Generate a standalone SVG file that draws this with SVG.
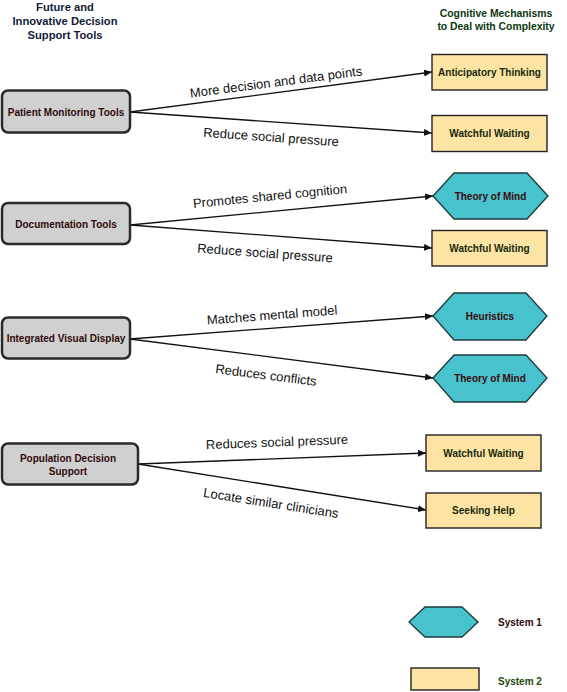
<svg xmlns="http://www.w3.org/2000/svg" width="567" height="692" viewBox="0 0 567 692">
<defs>
<style>
.hdrL{font-family:"Liberation Sans",Arial,sans-serif;font-weight:bold;font-size:11.2px;fill:#121a3c;text-anchor:middle}
.hdrR{font-family:"Liberation Sans",Arial,sans-serif;font-weight:bold;font-size:10.4px;fill:#0c360e;text-anchor:middle}
.src rect{fill:#d0d0d0;stroke:#2a2a2a;stroke-width:2.5}
.src text{font-family:"Liberation Sans",Arial,sans-serif;font-weight:bold;font-size:10px;fill:#2e0a0a;text-anchor:middle;dominant-baseline:central}
.s2 rect{fill:#fde4a4;stroke:#222;stroke-width:1.4}
.s2 text{font-family:"Liberation Sans",Arial,sans-serif;font-weight:bold;font-size:10px;fill:#16290c;text-anchor:middle;dominant-baseline:central}
.s1 polygon{fill:#48c2cc;stroke:#1c3a3c;stroke-width:1.3}
.s1 text{font-family:"Liberation Sans",Arial,sans-serif;font-weight:bold;font-size:10px;fill:#3a0a0e;text-anchor:middle;dominant-baseline:central}
.edges line{stroke:#111;stroke-width:1.3;marker-end:url(#arr)}
.lbl{font-family:"Liberation Sans",Arial,sans-serif;font-size:13px;fill:#111;text-anchor:middle;dominant-baseline:central}
.leg{font-family:"Liberation Sans",Arial,sans-serif;font-weight:bold;font-size:12px;dominant-baseline:central}
</style>
<marker id="arr" viewBox="0 0 8 7" refX="8" refY="3.5" markerWidth="8" markerHeight="7" markerUnits="userSpaceOnUse" orient="auto">
<path d="M0,0 L8,3.5 L0,7 z" fill="#111"/>
</marker>
</defs>
<rect width="567" height="692" fill="#fff"/>

<g id="header-left">
<text class="hdrL" x="65" y="11">Future and</text>
<text class="hdrL" x="65" y="25">Innovative Decision</text>
<text class="hdrL" x="65" y="38.5">Support Tools</text>
</g>
<g id="header-right">
<text class="hdrR" x="496" y="17">Cognitive Mechanisms</text>
<text class="hdrR" x="496" y="29.5">to Deal with Complexity</text>
</g>

<g class="edges" id="connectors">
<line x1="130" y1="112" x2="432" y2="72"/>
<line x1="130" y1="112" x2="432" y2="133"/>
<line x1="130" y1="225" x2="433" y2="196"/>
<line x1="130" y1="225" x2="432" y2="248"/>
<line x1="130" y1="339" x2="433" y2="316"/>
<line x1="130" y1="339" x2="433" y2="378"/>
<line x1="138" y1="464" x2="426" y2="453"/>
<line x1="138" y1="464" x2="426" y2="510"/>
</g>

<g id="edge-labels">
<text class="lbl" transform="translate(276,82) rotate(-7.4)">More decision and data points</text>
<text class="lbl" transform="translate(271,137) rotate(4)">Reduce social pressure</text>
<text class="lbl" transform="translate(270,196) rotate(-5.5)">Promotes shared cognition</text>
<text class="lbl" transform="translate(265,253) rotate(4.2)">Reduce social pressure</text>
<text class="lbl" transform="translate(272,315) rotate(-4.5)">Matches mental model</text>
<text class="lbl" transform="translate(266,375) rotate(7.2)">Reduces conflicts</text>
<text class="lbl" transform="translate(277,442) rotate(-2.2)">Reduces social pressure</text>
<text class="lbl" transform="translate(271,503) rotate(9)">Locate similar clinicians</text>
</g>

<g id="patient-monitoring" class="src">
<rect x="2" y="90.5" width="128" height="42" rx="6"/>
<text x="66" y="112">Patient Monitoring Tools</text>
</g>
<g id="documentation" class="src">
<rect x="2" y="203" width="128" height="41" rx="6"/>
<text x="66" y="224">Documentation Tools</text>
</g>
<g id="integrated-visual" class="src">
<rect x="2" y="317.5" width="128" height="41" rx="6"/>
<text x="66" y="338">Integrated Visual Display</text>
</g>
<g id="population-decision" class="src">
<rect x="2" y="443.5" width="136" height="41" rx="6"/>
<text x="68" y="458">Population Decision</text>
<text x="68" y="471">Support</text>
</g>

<g id="anticipatory-1" class="s2">
<rect x="432" y="54.5" width="115" height="35.5"/>
<text x="489.5" y="72.5">Anticipatory Thinking</text>
</g>
<g id="watchful-1" class="s2">
<rect x="432" y="115.5" width="115" height="36"/>
<text x="489.5" y="133.5">Watchful Waiting</text>
</g>
<g id="theory-1" class="s1">
<polygon points="433,196 454,173 527,173 548,196 527,219 454,219"/>
<text x="490.5" y="196">Theory of Mind</text>
</g>
<g id="watchful-2" class="s2">
<rect x="432" y="230.5" width="115" height="35.5"/>
<text x="489.5" y="248">Watchful Waiting</text>
</g>
<g id="heuristics" class="s1">
<polygon points="433,316 454,293 526,293 547,316 526,340 454,340"/>
<text x="490" y="316">Heuristics</text>
</g>
<g id="theory-2" class="s1">
<polygon points="433,378 454,355 526,355 547,378 526,402 454,402"/>
<text x="490" y="378">Theory of Mind</text>
</g>
<g id="watchful-3" class="s2">
<rect x="426" y="435" width="115" height="36"/>
<text x="483.5" y="453">Watchful Waiting</text>
</g>
<g id="seeking-help" class="s2">
<rect x="426" y="493" width="115" height="35"/>
<text x="483.5" y="510.5">Seeking Help</text>
</g>

<g id="legend-system1" class="s1">
<polygon points="409,622 425,607 462,607 478,622 462,637 425,637"/>
<text class="leg" x="498" y="622" style="text-anchor:start;fill:#2a0808">System 1</text>
</g>
<g id="legend-system2" class="s2">
<rect x="411" y="668" width="68" height="22"/>
<text class="leg" x="498" y="681" style="text-anchor:start;fill:#1c4a0a">System 2</text>
</g>
</svg>
